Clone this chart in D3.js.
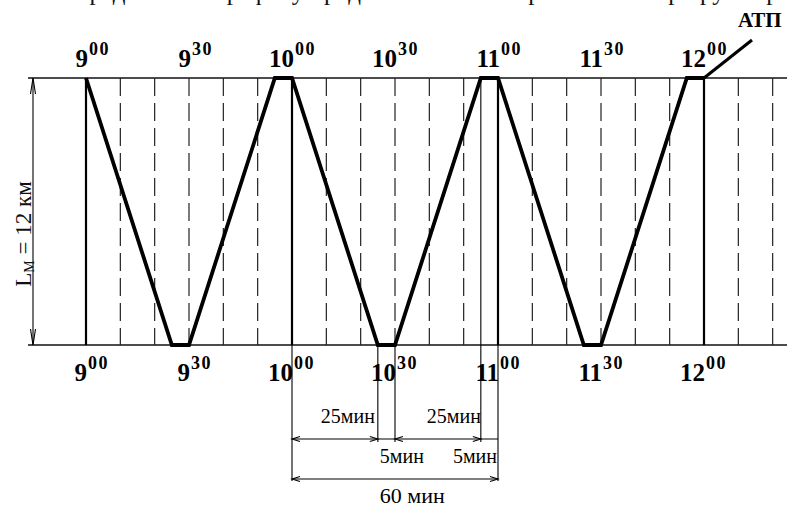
<!DOCTYPE html>
<html><head><meta charset="utf-8">
<script src="https://cdn.jsdelivr.net/npm/d3@7"></script>
<style>body{margin:0;background:#fff}svg{display:block}</style>
</head><body>
<svg id="chart" width="787" height="507"></svg>
<script>
// Bus trip schedule: minutes after 9:00 and position along the route (km)
const tripMinutes = [0, 25, 30, 55, 60, 85, 90, 115, 120, 145, 150, 175, 180];
const tripKm      = [12, 0, 0, 12, 12, 0, 0, 12, 12, 0, 0, 12, 12];
const routeKm = [0, 12];
const hourMinutes = [0, 60, 120, 180];
const gridMinutes = [10, 20, 30, 40, 50, 70, 80, 90, 100, 110, 130, 140, 150, 160, 170, 190, 200];
const labelMinutes = [0, 30, 60, 90, 120, 150, 180];
const labelHours = ["9", "9", "10", "10", "11", "11", "12"];
const labelMins = ["00", "30", "00", "30", "00", "30", "00"];
// dimension spans [from, to] in minutes with their captions
const spanFrom = [60, 90, 85, 115, 60];
const spanTo   = [85, 115, 90, 120, 120];
const spanText = ["25мин", "25мин", "5мин", "5мин", "60 мин"];

const svg = d3.select("#chart");
const serif = "'Liberation Serif', 'Times New Roman', serif";

const x = d3.scaleLinear().domain([0, 180]).range([86, 704]);
const y = d3.scaleLinear().domain([0, 12]).range([345, 78]);

// cut-off line of body text above the figure
svg.append("text").attr("x", 58).attr("y", 0).attr("font-family", serif).attr("font-size", 25)
  .attr("fill", "#111").text("Определим по графику продолжительность работы на маршруте при перерыве");

// route end lines
svg.selectAll("line.edge").data(routeKm).join("line").attr("class", "edge")
  .attr("x1", 28).attr("x2", 787).attr("y1", d => y(d)).attr("y2", d => y(d))
  .attr("stroke", "#111").attr("stroke-width", 1.3);

// 10-minute grid
svg.selectAll("line.grid").data(gridMinutes).join("line").attr("class", "grid")
  .attr("x1", d => x(d)).attr("x2", d => x(d)).attr("y1", y(12)).attr("y2", y(0))
  .attr("stroke", "#222").attr("stroke-width", 1.2).attr("stroke-dasharray", "18,7");

// hour lines
svg.selectAll("line.hour").data(hourMinutes).join("line").attr("class", "hour")
  .attr("x1", d => x(d)).attr("x2", d => x(d)).attr("y1", y(12)).attr("y2", y(0))
  .attr("stroke", "#000").attr("stroke-width", 2.2);

// trip line
const pts = tripMinutes.map((m, i) => [x(m), y(tripKm[i])]);
svg.append("path").attr("d", d3.line()(pts)).attr("fill", "none")
  .attr("stroke", "#000").attr("stroke-width", 3.8).attr("stroke-linejoin", "miter");

// return to depot
svg.append("line").attr("x1", x(180)).attr("y1", y(12)).attr("x2", x(180) + 48).attr("y2", y(12) - 38)
  .attr("stroke", "#000").attr("stroke-width", 3);
svg.append("text").attr("x", 738).attr("y", 27).attr("font-family", serif).attr("font-weight", "bold")
  .attr("font-size", 21).attr("fill", "#000").text("АТП");

// time labels, top and bottom
function timeLabels(base, dx) {
  labelMinutes.forEach((m, i) => {
    svg.append("text").attr("x", x(m) + dx).attr("y", base).attr("text-anchor", "end")
      .attr("font-family", serif).attr("font-weight", "bold").attr("font-size", 25).attr("fill", "#000")
      .text(labelHours[i]);
    svg.append("text").attr("x", x(m) + dx + 1).attr("y", base - 12)
      .attr("font-family", serif).attr("font-weight", "bold").attr("font-size", 18)
      .attr("letter-spacing", 1.5).attr("fill", "#000")
      .text(labelMins[i]);
  });
}
timeLabels(67, 2);
timeLabels(381, 1);

// route length dimension
const dimX = 33;
svg.append("line").attr("x1", dimX).attr("x2", dimX).attr("y1", y(12)).attr("y2", y(0))
  .attr("stroke", "#000").attr("stroke-width", 1.1);
function arrow(tx, ty, dx, dy, len, w) {
  const px = -dy, py = dx;
  svg.append("path")
    .attr("d", `M${tx + dx * len + px * w},${ty + dy * len + py * w}L${tx},${ty}L${tx + dx * len - px * w},${ty + dy * len - py * w}`)
    .attr("fill", "none").attr("stroke", "#000").attr("stroke-width", 1.1);
}
arrow(dimX, y(12), 0, 1, 16, 2.5);
arrow(dimX, y(0), 0, -1, 16, 2.5);

const lm = svg.append("text").attr("transform", `translate(31,234) rotate(-90)`)
  .attr("text-anchor", "middle").attr("font-family", serif).attr("font-size", 23).attr("fill", "#111");
lm.append("tspan").text("L");
lm.append("tspan").attr("font-size", 14).attr("dy", 3).text("М");
lm.append("tspan").attr("dy", -3).text(" = 12 км");

// time dimensions below the chart
const row1 = 439, row2 = 479;
const ext = [[60, y(0), row2 + 2], [120, y(0), row2 + 2], [85, y(0), row1 + 3], [90, y(0), row1 + 3], [115, y(12), row1 + 3]];
ext.forEach(([m, y1, y2]) => {
  svg.append("line").attr("x1", x(m)).attr("x2", x(m)).attr("y1", y1).attr("y2", y2)
    .attr("stroke", "#000").attr("stroke-width", 1.1);
});
svg.append("line").attr("x1", x(60)).attr("x2", x(120)).attr("y1", row1).attr("y2", row1)
  .attr("stroke", "#000").attr("stroke-width", 1.1);
svg.append("line").attr("x1", x(60)).attr("x2", x(120)).attr("y1", row2).attr("y2", row2)
  .attr("stroke", "#000").attr("stroke-width", 1.1);
[0, 1].forEach(i => {
  arrow(x(spanFrom[i]), row1, 1, 0, 8, 2.5);
  arrow(x(spanTo[i]), row1, -1, 0, 8, 2.5);
});
arrow(x(spanFrom[4]), row2, 1, 0, 8, 2.5);
arrow(x(spanTo[4]), row2, -1, 0, 8, 2.5);

const txt = (tx, ty, anchor, s, fs) => svg.append("text").attr("x", tx).attr("y", ty).attr("text-anchor", anchor)
  .attr("font-family", serif).attr("font-size", fs).attr("fill", "#000").text(s);
txt(x(spanTo[0]) - 3, 423, "end", spanText[0], 20);
txt(x(spanTo[1]), 423, "end", spanText[1], 20);
txt(x(spanFrom[2]) + 2, 463, "start", spanText[2], 20);
txt(x(spanTo[3]) - 1, 463, "end", spanText[3], 20);
txt(x(85) + 2, 503, "start", spanText[4], 22);
</script>
</body></html>
